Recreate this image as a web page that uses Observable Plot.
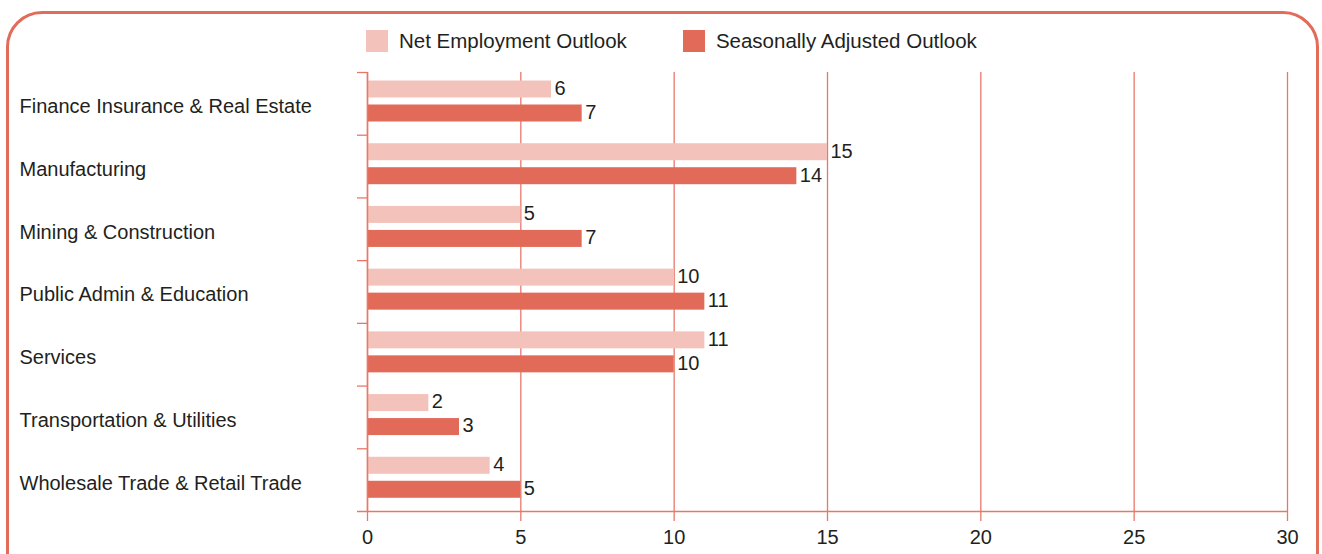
<!DOCTYPE html>
<html>
<head>
<meta charset="utf-8">
<script src="https://cdn.jsdelivr.net/npm/d3@7"></script>
<script src="https://cdn.jsdelivr.net/npm/@observablehq/plot@0.6"></script>
<style>
  html, body { margin: 0; padding: 0; background: #fff; overflow: hidden; }
  #wrap { position: relative; width: 1322px; height: 554px; overflow: hidden; font-family: "Liberation Sans", Arial, sans-serif; color: #231f20; }
  #frame { position: absolute; left: 6px; top: 11px; width: 1313px; height: 580px; border: 3.5px solid #e36b59; border-radius: 36px; box-sizing: border-box; pointer-events: none; }
  #legend { position: absolute; top: 30px; left: 366px; display: flex; align-items: center; font-size: 20.5px; line-height: 22px; }
  .item { display: flex; align-items: center; }
  .sw { width: 22px; height: 22px; margin-right: 11px; }
  #chart { position: absolute; left: 0; top: 0; }
</style>
</head>
<body>
<div id="wrap">
  <div id="chart"></div>
  <div id="frame"></div>
  <div id="legend"></div>
</div>
<script>
const categories = [
  "Finance Insurance & Real Estate",
  "Manufacturing",
  "Mining & Construction",
  "Public Admin & Education",
  "Services",
  "Transportation & Utilities",
  "Wholesale Trade & Retail Trade"
];
const seriesNames = ["Net Employment Outlook", "Seasonally Adjusted Outlook"];
const netOutlook = [6, 15, 5, 10, 11, 2, 4];
const seasonalOutlook = [7, 14, 7, 11, 10, 3, 5];
const xTicks = [0, 5, 10, 15, 20, 25, 30];
const colors = ["#f3c3bb", "#e26a58"];

const net = categories.map((c, i) => ({category: c, value: netOutlook[i]}));
const sea = categories.map((c, i) => ({category: c, value: seasonalOutlook[i]}));

const plotTop = 72, plotBottom = 511;
const bw = (plotBottom - plotTop) / categories.length;

// legend
const legend = document.getElementById("legend");
seriesNames.forEach((name, i) => {
  const it = document.createElement("div");
  it.className = "item";
  it.style.marginRight = i === 0 ? "56px" : "0";
  const sw = document.createElement("div");
  sw.className = "sw";
  sw.style.background = colors[i];
  const t = document.createElement("span");
  t.textContent = name;
  it.appendChild(sw); it.appendChild(t);
  legend.appendChild(it);
});

const gridColor = "#e8776a";
const textColor = "#231f20";
const fs = 20;

const chart = Plot.plot({
  width: 1322,
  height: 554,
  marginLeft: 367,
  marginRight: 35,
  marginTop: plotTop,
  marginBottom: 554 - plotBottom,
  style: {fontFamily: "Liberation Sans, Arial, sans-serif", color: textColor, background: "transparent"},
  x: {domain: [0, 30], ticks: xTicks, round: false},
  y: {domain: categories, padding: 0, round: false, axis: null},
  marks: [
    Plot.gridX(xTicks, {stroke: gridColor, strokeOpacity: 1, strokeWidth: 1.3}),
    Plot.axisX({ticks: xTicks, tickSize: 10, tickPadding: 8, stroke: gridColor, strokeWidth: 1.3, fontSize: fs, fill: textColor, label: null}),
    Plot.barX(net, {y: "category", x: "value", fill: colors[0], insetTop: 8.5, insetBottom: bw - 25.5}),
    Plot.barX(sea, {y: "category", x: "value", fill: colors[1], insetTop: 32.5, insetBottom: bw - 49.5}),
    Plot.text(net, {y: "category", x: "value", text: d => String(d.value), textAnchor: "start", dx: 3, dy: 16 - bw / 2, fontSize: fs, fill: textColor}),
    Plot.text(sea, {y: "category", x: "value", text: d => String(d.value), textAnchor: "start", dx: 3, dy: 40 - bw / 2, fontSize: fs, fill: textColor}),
    // left axis line
    Plot.ruleX([0], {stroke: gridColor, strokeWidth: 1.5}),
    // band boundary ticks on left
    Plot.ruleY(categories, {y: d => d, dy: -bw / 2, x1: 0, x2: 0, insetLeft: -10, stroke: gridColor, strokeWidth: 1.3}),
    // bottom axis line
    Plot.ruleY([categories[categories.length - 1]], {y: d => d, dy: bw / 2, x1: 0, x2: 30, insetLeft: -10, stroke: gridColor, strokeWidth: 1.3}),
    // category labels
    Plot.text(categories, {y: d => d, frameAnchor: "left", textAnchor: "start", dx: -348, dy: 3, fontSize: fs, fill: textColor})
  ]
});
document.getElementById("chart").appendChild(chart);
</script>
</body>
</html>
